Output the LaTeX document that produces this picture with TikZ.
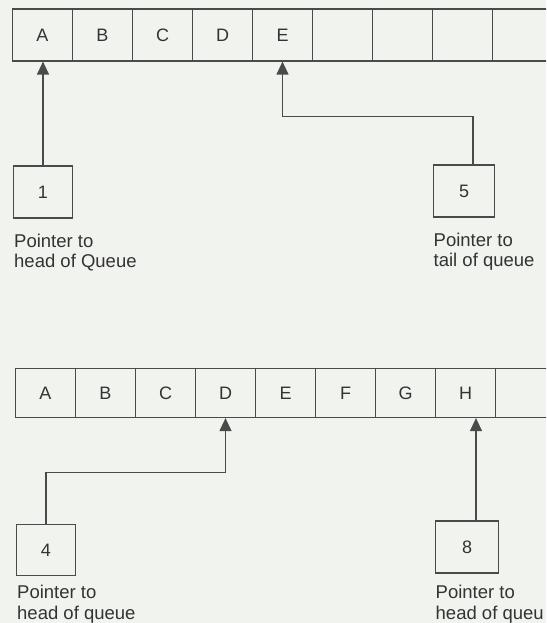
\documentclass[tikz,border=0pt]{standalone}
\usepackage{fontspec}
\setmainfont{Liberation Sans}
\usetikzlibrary{arrows.meta}
\definecolor{bgc}{HTML}{F1F3EE}
\definecolor{ink}{HTML}{4A4A4A}
\definecolor{txt}{HTML}{333333}
\begin{document}
\begin{tikzpicture}[x=1pt,y=-1pt,
  cellbox/.style={draw=ink, line width=1.2pt, minimum width=60pt, inner sep=0pt,
    text=txt, font=\fontsize{18}{21}\selectfont},
  toprow/.style={cellbox, minimum height=52pt},
  botrow/.style={cellbox, minimum height=49pt},
  ptrbox/.style={draw=ink, line width=1.2pt, inner sep=0pt, text=txt,
    font=\fontsize{18}{21}\selectfont},
  lbl/.style={inner sep=0pt, anchor=north west, align=left, text=txt,
    font=\fontsize{18.5}{20.5}\selectfont},
  arr/.style={draw=ink, line width=1.2pt, -{Triangle[width=12pt,length=13pt]}}]
\useasboundingbox (0,0) rectangle (546,623);
\clip (0,0) rectangle (546,623);
\fill[bgc] (0,0) rectangle (546,623);
% top queue
\node[toprow] (tA) at (42.5,35) {A};
\node[toprow] (tB) at (102.5,35) {B};
\node[toprow] (tC) at (162.5,35) {C};
\node[toprow] (tD) at (222.5,35) {D};
\node[toprow] (tE) at (282.5,35) {E};
\node[toprow] (tF) at (342.5,35) {};
\node[toprow] (tG) at (402.5,35) {};
\node[toprow] (tH) at (462.5,35) {};
\node[toprow] (tI) at (522.5,35) {};
\node[ptrbox, minimum width=59pt, minimum height=52pt] (b1) at (43,192) {1};
\node[ptrbox, minimum width=61pt, minimum height=52pt] (b5) at (464,191) {5};
\draw[arr] (b1.north) -- (b1.north |- tA.south);
\draw[arr] ([xshift=9pt]b5.north) |- ([yshift=-55pt]tE.south) -- (tE.south);
\node[lbl] (l1) at (14,233.5) {Pointer to\\head of Queue};
\node[lbl] (l5) at (433.5,232.5) {Pointer to\\tail of queue};
% bottom queue
\node[botrow] (bA) at (45.5,393) {A};
\node[botrow] (bB) at (105.5,393) {B};
\node[botrow] (bC) at (165.5,393) {C};
\node[botrow] (bD) at (225.5,393) {D};
\node[botrow] (bE) at (285.5,393) {E};
\node[botrow] (bF) at (345.5,393) {F};
\node[botrow] (bG) at (405.5,393) {G};
\node[botrow] (bH) at (465.5,393) {H};
\node[botrow] (bI) at (525.5,393) {};
\node[ptrbox, minimum width=59pt, minimum height=51.5pt] (b4) at (46,550) {4};
\node[ptrbox, minimum width=63pt, minimum height=52pt] (b8) at (467,547) {8};
\draw[arr] (b4.north) |- ([yshift=-54pt]bD.south) -- (bD.south);
\draw[arr] ([xshift=9pt]b8.north) -- ([xshift=9pt]b8.north |- bH.south);
\node[lbl] (l4) at (17,585) {Pointer to\\head of queue};
\node[lbl] (l8) at (435.5,585) {Pointer to\\head of queu};
\end{tikzpicture}
\end{document}
